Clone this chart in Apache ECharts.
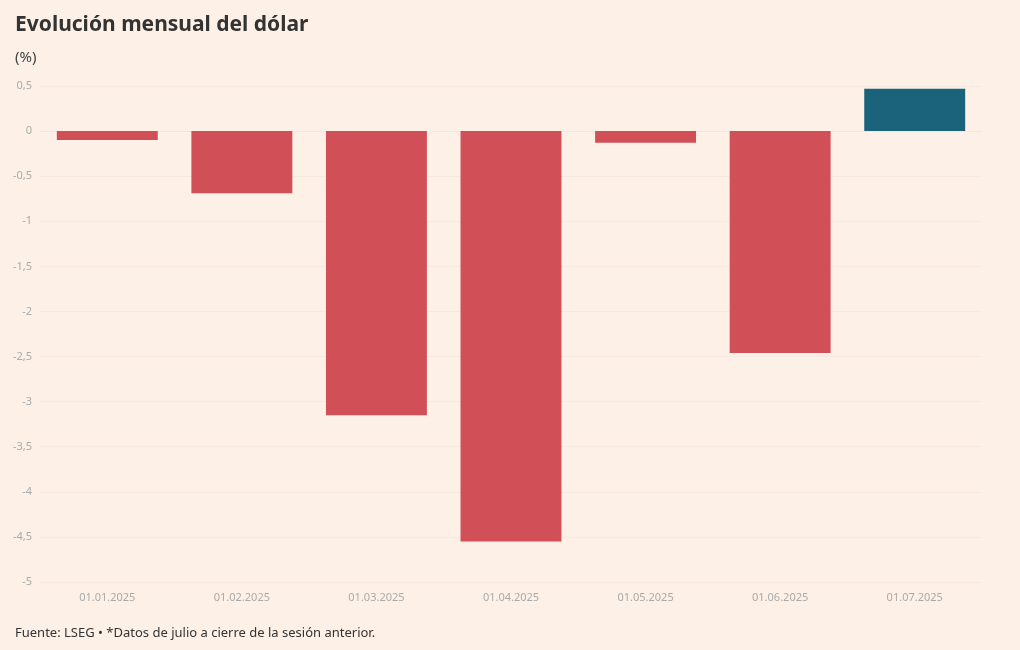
<!DOCTYPE html>
<html><head><meta charset="utf-8">
<script src="https://cdn.jsdelivr.net/npm/echarts@6/dist/echarts.min.js"></script>
<style>html,body{margin:0;background:#fdf0e6}#c{width:1020px;height:650px}</style>
</head><body><div id="c"></div>
<script>
const categories = ["01.01.2025","01.02.2025","01.03.2025","01.04.2025","01.05.2025","01.06.2025","01.07.2025"];
const values = [-0.1,-0.69,-3.15,-4.55,-0.13,-2.46,0.47];
const colors = values.map(v => v < 0 ? "#d14f57" : "#1a637b");
const font = "'Source Sans Pro','Noto Sans',sans-serif";
const chart = echarts.init(document.getElementById('c'));
chart.setOption({
  backgroundColor:"#fdf0e6",
  animation:false,
  textStyle:{fontFamily:font},
  title:[
    {text:"Evolución mensual del dólar",left:10,top:10,textStyle:{fontSize:21,fontWeight:"bold",color:"#333",fontFamily:font}},
    {text:"(%)",left:10,top:45,textStyle:{fontSize:15,fontWeight:"normal",color:"#444",fontFamily:font}},
    {text:"Fuente: LSEG • *Datos de julio a cierre de la sesión anterior.",left:10,top:622,textStyle:{fontSize:13,fontWeight:"normal",color:"#333",fontFamily:font}}
  ],
  grid:{left:40,right:38,top:86,bottom:68},
  xAxis:{type:"category",data:categories,axisTick:{show:false},
    axisLine:{show:true,lineStyle:{color:"#f5e6dc"}},
    axisLabel:{color:"#aaa",fontSize:11,margin:10}},
  yAxis:{type:"value",min:-5,max:0.5,interval:0.5,
    axisLabel:{color:"#aaa",fontSize:11,formatter:v=>String(+v.toFixed(1)).replace('.',',')},
    splitLine:{lineStyle:{color:"#f8e8de"}}},
  series:[{type:"bar",data:values.map((v,i)=>({value:v,itemStyle:{color:colors[i]}})),barCategoryGap:"25%"}]
});
</script></body></html>
